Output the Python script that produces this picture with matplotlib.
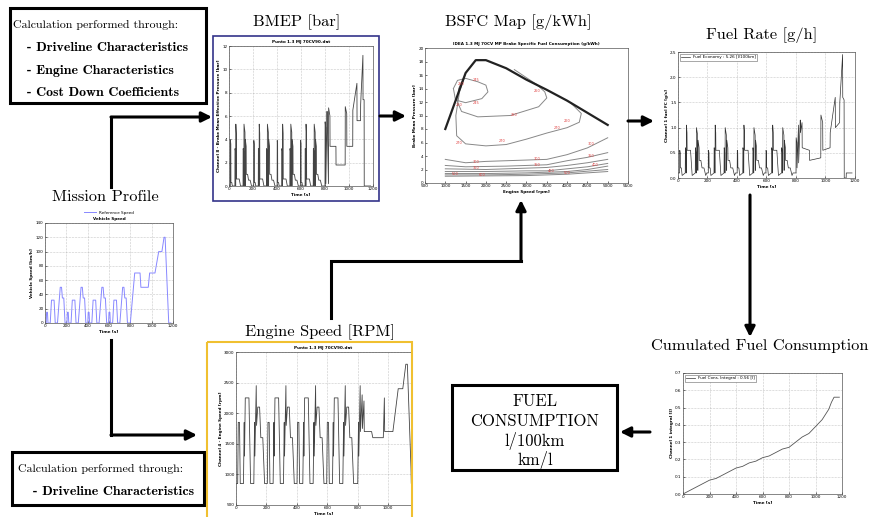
import matplotlib.pyplot as plt
from matplotlib.patches import Rectangle

# NEDC urban (ECE) cycle is repeated 4 times, then the extra-urban part
cycle_offsets = [0, 195, 390, 585]

# mission profile - vehicle speed [km/h]
ece_speed_t = [0, 11, 15, 23, 28, 49, 61, 85, 96, 117, 143, 155, 163, 176, 188, 195]
ece_speed = [0, 0, 15, 15, 0, 0, 32, 32, 0, 0, 50, 50, 35, 35, 0, 0]
eudc_speed_t = [780, 800, 841, 891, 899, 968, 981, 1031, 1066, 1096, 1116, 1126, 1160, 1180]
eudc_speed = [0, 0, 70, 70, 50, 50, 70, 70, 100, 100, 120, 120, 0, 0]

# BMEP [bar]
ece_bmep_t = [0, 11, 12, 15, 16, 23, 28, 49, 50, 54, 55, 56, 57, 61, 62, 85, 96, 117,
              118, 122, 123, 124, 125, 133, 134, 135, 136, 143, 144, 155, 163, 176, 188, 195]
ece_bmep = [0, 0, 3.9, 3.6, 0.3, 0.3, 0, 0, 3.2, 3.0, 0, 0, 5.3, 4.5, 0.6, 0.6, 0, 0,
            3.2, 3.0, 0, 0, 5.3, 4.6, 0, 0, 4.0, 3.4, 1.0, 1.0, 0.5, 0.5, 0, 0]
eudc_bmep_t = [780, 800, 801, 806, 807, 817, 818, 829, 830, 841, 842, 891, 892, 968, 969, 981,
               982, 1031, 1032, 1066, 1067, 1096, 1097, 1116, 1117, 1126, 1127, 1180]
eudc_bmep = [0, 0, 5.5, 5.0, 0.2, 6.4, 5.8, 0.2, 6.7, 6.0, 3.4, 3.4, 1.8, 1.8, 6.8, 6.2,
             3.4, 3.4, 6.5, 8.8, 5.6, 5.6, 7.0, 11.2, 7.4, 7.4, 0, 0]

# engine speed [rpm]
ece_rpm_t = [0, 11, 15, 23, 28, 49, 54, 56, 61, 85, 96, 117, 122, 124, 133, 135, 143, 155, 163, 176, 188, 195]
ece_rpm = [850, 850, 1850, 1850, 850, 850, 1850, 1300, 2250, 2250, 850, 850, 1850, 1300, 2450, 1800,
           2100, 2100, 1600, 1600, 850, 850]
eudc_rpm_t = [780, 800, 805, 807, 816, 818, 829, 831, 841, 843, 891, 899, 968, 975, 977, 1031,
              1066, 1096, 1116, 1126, 1150, 1152, 1180]
eudc_rpm = [850, 850, 1850, 1300, 2450, 1700, 2300, 1750, 2200, 1700, 1700, 1600, 1600, 2250, 1700, 1700,
            2400, 2400, 2800, 2800, 1100, 850, 850]

# fuel rate [g/s]
ece_fuel_t = ece_bmep_t
ece_fuel = [0.1, 0.1, 0.55, 0.5, 0.2, 0.2, 0.05, 0.1, 0.6, 0.55, 0.1, 0.1, 1.05, 0.9, 0.55, 0.55, 0.05, 0.1,
            0.6, 0.5, 0.1, 0.1, 1.0, 0.85, 0.15, 0.15, 0.75, 0.6, 0.35, 0.35, 0.2, 0.2, 0.05, 0.1]
eudc_fuel_t = [780, 800, 801, 806, 807, 817, 818, 829, 830, 841, 842, 891, 892, 968, 969, 981,
               982, 1031, 1032, 1066, 1067, 1096, 1097, 1116, 1117, 1126, 1127, 1140, 1141, 1180]
eudc_fuel = [0.1, 0.1, 0.8, 0.7, 0.2, 1.05, 0.3, 1.15, 0.9, 1.1, 0.6, 0.55, 0.35, 0.4, 1.25, 1.1,
             0.55, 0.6, 0.9, 1.6, 1.0, 1.1, 1.5, 2.45, 1.6, 1.55, 0, 0, 0.1, 0.1]

# cumulated fuel [l]
cum_t = [0, 50, 100, 150, 200, 250, 300, 350, 400, 450, 500, 550, 600, 650, 700, 750, 800,
         850, 900, 950, 1000, 1050, 1100, 1120, 1140, 1180]
cum_l = [0, 0.02, 0.04, 0.06, 0.08, 0.09, 0.11, 0.13, 0.15, 0.16, 0.18, 0.19, 0.21, 0.22, 0.24,
         0.26, 0.27, 0.30, 0.33, 0.35, 0.39, 0.43, 0.49, 0.53, 0.56, 0.56]

# BSFC map
full_load_rpm = [1000, 1500, 1750, 2000, 2500, 3000, 3500, 4000, 4500, 5000]
full_load_bar = [8, 16.3, 18.2, 18.2, 17.0, 15.3, 13.8, 12.2, 10.4, 8.6]
iso_lines = [
    ([1200, 1300, 1500, 1800, 2000, 2050, 1900, 1500, 1250, 1200],
     [14, 15.2, 15.5, 15.0, 14.5, 13.5, 12.5, 11.9, 12.3, 14]),
    ([1450, 1330, 1300, 1400, 1800, 2600, 3300, 3500, 3450, 3250, 2700],
     [15.5, 14, 12, 10.6, 9.8, 10.0, 11.3, 12.6, 13.5, 14.6, 16.8]),
    ([1500, 1350, 1260, 1280, 1500, 2000, 2500, 3000, 3500, 4000, 4300, 4350, 4100],
     [16.2, 13.5, 10, 7, 5.8, 5.5, 5.7, 6.5, 7.4, 8.2, 9.0, 10.3, 11.8]),
    ([1000, 1500, 2000, 2500, 3000, 3500, 4000, 4500, 5000], [3.5, 3.0, 3.2, 3.3, 3.4, 3.5, 4.2, 5.2, 6.7]),
    ([1000, 1500, 2500, 3500, 4000, 4500, 5000], [2.6, 2.4, 2.5, 2.7, 3.3, 3.8, 4.5]),
    ([1000, 2000, 3000, 3500, 4000, 4500, 5000], [2.1, 2.0, 2.2, 2.3, 2.6, 3.0, 3.5]),
    ([1000, 2000, 3000, 3500, 4000, 4500, 5000], [1.7, 1.7, 1.8, 1.8, 2.1, 2.4, 2.9]),
    ([1000, 2000, 3000, 4000, 4500, 5000], [1.4, 1.4, 1.5, 1.7, 2.0, 2.5]),
    ([1000, 2000, 3000, 4000, 5000], [1.2, 1.2, 1.3, 1.5, 2.0]),
    ([1000, 3000, 4000, 5000], [1.0, 1.1, 1.3, 1.7]),
]
iso_label_rpm = [1400, 1750, 1350, 1750, 2700, 3250, 4000, 1350, 2400, 3750, 1750, 3250, 4600,
                 1750, 3250, 4600, 1250, 3600, 4700, 1900, 4000]
iso_label_bar = [14.7, 15.3, 11.5, 11.9, 10.0, 13.6, 9.2, 6.0, 6.2, 8.2, 3.1, 3.5, 5.8,
                 2.2, 2.6, 4.0, 1.3, 1.8, 2.6, 1.2, 1.5]
iso_label_txt = ['250', '245', '260', '245', '250', '250', '260', '270', '270', '270', '300', '300', '300',
                 '350', '350', '350', '500', '400', '400', '600', '500']


def build(ece_t, ece_v, eudc_t, eudc_v):
    t, v = [], []
    for off in cycle_offsets:
        t += [off + x for x in ece_t]
        v += ece_v
    return t + eudc_t, v + eudc_v


W, H = 870, 517
fig = plt.figure(figsize=(8.7, 5.17), dpi=100)


def rect(x0, y0, x1, y1):
    return [x0 / W, 1 - y1 / H, (x1 - x0) / W, (y1 - y0) / H]


def small_axes(pos, xlim, ylim, xticks, yticks, xlabel, ylabel, title=None):
    ax = fig.add_axes(rect(*pos))
    ax.set_xlim(xlim)
    ax.set_ylim(ylim)
    ax.set_xticks(xticks)
    ax.set_yticks(yticks)
    ax.tick_params(labelsize=3, length=1.5, width=0.4, pad=1, direction='in')
    ax.grid(True, ls=':', lw=0.4, color='#999999')
    ax.set_xlabel(xlabel, fontsize=3, labelpad=1, fontweight='bold')
    ax.set_ylabel(ylabel, fontsize=3, labelpad=1, fontweight='bold')
    if title:
        ax.set_title(title, fontsize=3, pad=2, fontweight='bold')
    for s in ax.spines.values():
        s.set_linewidth(0.5)
        s.set_color('#555555')
    return ax


time_ticks = [0, 200, 400, 600, 800, 1000, 1200]

# mission profile
t, v = build(ece_speed_t, ece_speed, eudc_speed_t, eudc_speed)
ax = small_axes((45, 223, 173, 323), (0, 1200), (0, 140), time_ticks, range(0, 141, 20),
                'Time [s]', 'Vehicle Speed [km/h]', 'Vehicle Speed')
ax.plot(t, v, color='#8888ff', lw=0.7, label='Reference Speed')
ax.legend(fontsize=3, loc='lower center', bbox_to_anchor=(0.5, 1.06), frameon=False,
          handlelength=3, borderpad=0)

# BMEP
t, v = build(ece_bmep_t, ece_bmep, eudc_bmep_t, eudc_bmep)
ax = small_axes((229, 46, 373, 186), (0, 1200), (0, 12), time_ticks, range(0, 13, 2),
                'Time [s]', 'Channel 8 - Brake Mean Effective Pressure [bar]', 'Punto 1.3 MJ 70CV90.dat')
ax.plot(t, v, color='#444444', lw=0.6)

# BSFC map
ax = small_axes((425, 48, 628, 183), (500, 5500), (0, 20), range(500, 5501, 500), range(0, 21, 2),
                'Engine Speed [rpm]', 'Brake Mean Pressure [bar]',
                'IDEA 1.3 MJ 70CV MP Brake Specific Fuel Consumption (g/kWh)')
ax.grid(False)
for xs, ys in iso_lines:
    ax.plot(xs, ys, color='#888888', lw=0.7)
ax.plot(full_load_rpm, full_load_bar, color='#222222', lw=1.6)
for x, y, s in zip(iso_label_rpm, iso_label_bar, iso_label_txt):
    ax.text(x, y, s, fontsize=2.5, color='#e04040', ha='center', va='center')

# fuel rate
t, v = build(ece_fuel_t, ece_fuel, eudc_fuel_t, eudc_fuel)
ax = small_axes((678, 52, 855, 178), (0, 1200), (0, 2.5), time_ticks, [0, 0.5, 1, 1.5, 2, 2.5],
                'Time [s]', 'Channel 1 fuel FC [g/s]')
ax.plot(t, v, color='#333333', lw=0.5, label='Fuel Economy : 5.26 [l/100km]')
ax.legend(fontsize=3, loc='upper left', handlelength=2, borderpad=0.3, fancybox=False,
          edgecolor='#666666', framealpha=1).get_frame().set_linewidth(0.4)

# engine speed (screenshot is cropped on the right)
t, v = build(ece_rpm_t, ece_rpm, eudc_rpm_t, eudc_rpm)
ax = small_axes((236, 352, 411, 505), (0, 1150), (500, 3000), time_ticks[:-1], range(500, 3001, 500),
                'Time [s]', 'Channel 4 - Engine Speed [rpm]', 'Punto 1.3 MJ 70CV90.dat')
ax.spines['right'].set_visible(False)
ax.plot(t, v, color='#444444', lw=0.6)

# cumulated fuel
ax = small_axes((683, 373, 842, 494), (0, 1200), (0, 0.7), time_ticks,
                [0, 0.1, 0.2, 0.3, 0.4, 0.5, 0.6, 0.7], 'Time [s]', 'Channel 1 integral [l]')
ax.plot(cum_t, cum_l, color='#555555', lw=0.6, label='Fuel Cons. Integral : 0.56 [l]')
ax.legend(fontsize=3, loc='upper left', handlelength=2, borderpad=0.3, fancybox=False,
          edgecolor='#666666', framealpha=1).get_frame().set_linewidth(0.4)

# overlay for boxes, labels and arrows (pixel coordinates)
ov = fig.add_axes([0, 0, 1, 1], zorder=10)
ov.set_xlim(0, W)
ov.set_ylim(H, 0)
ov.axis('off')
ov.patch.set_alpha(0)

serif = 'cmr10'
serif_bold = 'cmb10'

ov.add_patch(Rectangle((10, 8), 196, 95, fill=False, lw=2.2, ec='black'))
ov.text(13, 25, 'Calculation performed through:', family=serif, fontsize=8.6, va='center')
ov.text(27, 48, '- Driveline Characteristics', family=serif_bold, fontsize=10, va='center')
ov.text(27, 71, '- Engine Characteristics', family=serif_bold, fontsize=10, va='center')
ov.text(27, 93, '- Cost Down Coefficients', family=serif_bold, fontsize=10, va='center')

ov.add_patch(Rectangle((12, 452), 192, 53, fill=False, lw=2.2, ec='black'))
ov.text(18, 469, 'Calculation performed through:', family=serif, fontsize=8.6, va='center')
ov.text(33, 492, '- Driveline Characteristics', family=serif_bold, fontsize=10, va='center')

ov.add_patch(Rectangle((452, 385), 165, 85, fill=False, lw=2.2, ec='black'))
for y, s in zip([401, 421, 441, 460], ['FUEL', 'CONSUMPTION', 'l/100km', 'km/l']):
    ov.text(535, y, s, family=serif, fontsize=12, ha='center', va='center')

ov.add_patch(Rectangle((213, 36), 166, 165, fill=False, lw=1.2, ec='#33338a'))
ov.add_patch(Rectangle((207, 342), 205, 178, fill=False, lw=1.5, ec='#f0c030', clip_on=False))

titles = [(297, 22, 'BMEP [bar]'), (518, 22, 'BSFC Map [g/kWh]'), (762, 35, 'Fuel Rate [g/h]'),
          (105, 197, 'Mission Profile'), (320, 332, 'Engine Speed [RPM]'),
          (760, 346, 'Cumulated Fuel Consumption')]
for x, y, s in titles:
    ov.text(x, y, s, family=serif, fontsize=11.8, ha='center', va='center')


def arrow(pts):
    xs = [p[0] for p in pts[:-1]]
    ys = [p[1] for p in pts[:-1]]
    if len(pts) > 2:
        ov.plot(xs, ys, color='black', lw=2.2, solid_joinstyle='miter')
    ov.annotate('', xy=pts[-1], xytext=pts[-2],
                arrowprops=dict(arrowstyle='-|>,head_length=0.6,head_width=0.3', lw=2.2,
                                color='black', shrinkA=0, shrinkB=0))


arrow([(111, 187), (111, 117), (212, 117)])
arrow([(380, 116), (406, 116)])
arrow([(628, 121), (654, 121)])
arrow([(331, 318), (331, 261), (521, 261), (521, 200)])
arrow([(750, 195), (750, 337)])
arrow([(650, 432), (620, 432)])
arrow([(111, 340), (111, 435), (197, 435)])

fig.savefig('out.png', dpi=100)
